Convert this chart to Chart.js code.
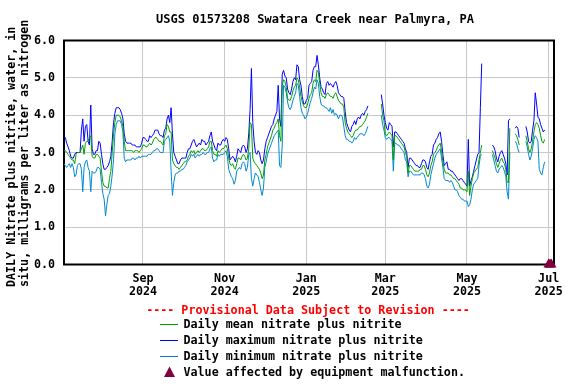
<!DOCTYPE html>
<html>
<head>
<meta charset="utf-8">
<script src="https://cdn.jsdelivr.net/npm/chart.js@4/dist/chart.umd.min.js"></script>
<style>
  html, body { margin: 0; padding: 0; background: #fff; }
  #wrap { width: 576px; height: 384px; position: relative; }
  canvas { display: block; }
</style>
</head>
<body>
<div id="wrap"><canvas id="c" width="576" height="384"></canvas></div>
<script>
// ---- data (day index 0 = 2024-07-04) ----
const N = null;
const chartTitle = 'USGS 01573208 Swatara Creek near Palmyra, PA';
const yTitleLines = ['DAILY Nitrate plus nitrite, water, in', 'situ, milligrams per liter as nitrogen'];
const provisionalText = '---- Provisional Data Subject to Revision ----';
const seriesLabels = ['Daily mean nitrate plus nitrite', 'Daily maximum nitrate plus nitrite',
                      'Daily minimum nitrate plus nitrite', 'Value affected by equipment malfunction.'];
const startDate = '2024-07-04';
const tickDays = [59, 120, 181, 240, 301, 362];
const tickMonths = ['Sep', 'Nov', 'Jan', 'Mar', 'May', 'Jul'];
const tickYears = ['2024', '2024', '2025', '2025', '2025', '2025'];
const yTicks = [0, 1, 2, 3, 4, 5, 6];

const maxValues = [
 3.4, 3.4, 3.25, 3.15, 3.05, 2.9, 2.85, 2.85, 2.95, 3.0,
 3.0, 3.0, 3.0, 3.6, 3.9, 3.3, 3.7, 3.75, 3.3, 3.2,
 4.27, 3.1, 2.95, 2.95, 3.05, 3.05, 3.3, 3.25, 2.95, 2.7,
 2.55, 2.55, 2.6, 2.65, 2.75, 2.9, 3.3, 3.8, 4.05, 4.2,
 4.2, 4.2, 4.15, 4.05, 3.9, 3.5, 3.3, 3.25, 3.25, 3.25,
 3.25, 3.2, 3.2, 3.2, 3.15, 3.15, 3.15, 3.15, 3.25, 3.4,
 3.4, 3.35, 3.3, 3.3, 3.45, 3.4, 3.45, 3.5, 3.6, 3.6,
 3.6, 3.5, 3.45, 3.45, 3.4, 3.6, 3.65, 3.9, 4.0, 3.8,
 4.2, 3.5, 3.0, 2.9, 2.8, 2.7, 2.7, 2.8, 2.85, 2.85,
 2.85, 2.85, 3.0, 3.1, 3.1, 3.2, 3.3, 3.35, 3.25, 3.15,
 3.2, 3.25, 3.2, 3.35, 3.3, 3.3, 3.2, 3.25, 3.3, 3.45,
 3.55, 3.3, 3.2, 3.1, 3.05, 3.25, 3.2, 3.2, 3.3, 3.35,
 3.3, 3.4, 3.35, 3.1, 2.8, 2.85, 2.9, 2.85, 2.75, 2.9,
 3.1, 3.05, 3.0, 3.15, 3.2, 3.15, 3.0, 3.1, 3.5, 4.15,
 5.25, 3.8, 3.3, 3.0, 2.95, 3.05, 3.0, 2.8, 2.7, 2.8,
 3.1, 3.3, 3.4, 3.5, 3.6, 3.7, 3.75, 3.9, 4.0, 4.1,
 4.8, 3.9, 3.7, 5.1, 5.2, 5.05, 5.0, 4.7, 4.6, 4.55,
 4.7, 4.9, 5.0, 4.95, 5.35, 5.3, 4.95, 4.8, 4.5, 4.3,
 4.3, 4.4, 4.45, 4.8, 4.85, 4.9, 5.2, 5.3, 5.3, 5.6,
 5.35, 5.0, 4.75, 4.7, 4.6, 4.55, 4.85, 4.9, 4.8, 4.85,
 4.8, 4.75, 4.85, 4.9, 4.8, 4.6, 4.55, 4.5, 4.5, 4.45,
 4.1, 3.8, 3.7, 3.6, 3.55, 3.7, 3.75, 3.85, 3.75, 3.9,
 3.95, 3.9, 4.0, 4.05, 4.0, 4.1, 4.15, 4.25, N, N,
 N, N, N, N, N, N, N, 4.55, 4.3, 4.0,
 3.8, 3.65, 3.6, 3.8, 3.75, 3.7, 3.15, 3.55, 3.55, 3.5,
 3.45, 3.4, 3.35, 3.3, 3.25, 3.1, 3.0, 2.6, 2.85, 2.85,
 2.8, 2.75, 2.7, 2.65, 2.65, 2.6, 2.6, 2.7, 2.8, 2.8,
 2.75, 2.6, 2.55, 2.75, 2.9, 2.95, 3.2, 3.25, 3.35, 3.4,
 3.5, 3.55, 3.3, 2.95, 2.65, 2.7, 2.75, 2.55, 2.55, 2.5,
 2.5, 2.45, 2.4, 2.35, 2.3, 2.25, 2.3, 2.3, 2.25, 2.2,
 2.15, 2.1, 3.35, 2.1, 2.25, 2.35, 2.5, 2.65, 2.8, 2.95,
 3.0, 4.2, 5.38, N, N, N, N, N, N, N,
 3.2, 3.15, 3.05, 2.85, 2.75, 2.9, 3.0, 3.05, 2.95, 2.85,
 2.7, 2.4, 3.85, 3.9, N, N, N, 3.65, 3.7, 3.65,
 3.4, N, N, N, N, 3.7, 3.55, 3.3, 3.25, 3.3,
 3.6, 3.85, 4.6, 4.3, 3.95, 3.9, 3.75, 3.65, 3.55, 3.6,
 N, N, N, N, N, N, N
];

const meanValues = [
 3.05, 3.05, 3.0, 2.95, 2.9, 2.85, 2.8, 2.8, 2.7, 2.95,
 3.0, 3.0, 3.0, 3.1, 3.2, 2.95, 3.25, 3.3, 3.3, 3.4,
 3.45, 2.9, 2.85, 2.85, 2.95, 2.95, 2.9, 2.85, 2.5, 2.2,
 2.1, 2.1, 2.05, 2.05, 2.3, 2.5, 3.0, 3.5, 3.8, 4.0,
 4.0, 4.0, 3.95, 3.85, 3.7, 3.3, 3.05, 3.05, 3.05, 3.05,
 3.05, 3.05, 3.0, 3.05, 3.05, 3.05, 3.0, 3.05, 3.1, 3.2,
 3.2, 3.15, 3.15, 3.2, 3.25, 3.2, 3.25, 3.35, 3.4, 3.4,
 3.35, 3.3, 3.3, 3.25, 3.2, 3.45, 3.5, 3.75, 3.7, 3.55,
 3.55, 2.8, 2.7, 2.65, 2.6, 2.6, 2.55, 2.6, 2.65, 2.7,
 2.75, 2.75, 2.8, 2.9, 2.95, 3.05, 3.0, 3.05, 2.95, 3.0,
 3.05, 3.0, 3.05, 3.1, 3.1, 3.05, 3.05, 3.1, 3.15, 3.3,
 3.3, 3.05, 2.95, 2.95, 2.9, 3.05, 3.0, 3.05, 3.1, 3.1,
 3.15, 3.2, 3.1, 2.85, 2.7, 2.65, 2.7, 2.6, 2.55, 2.7,
 2.85, 2.85, 2.8, 2.9, 2.95, 2.9, 2.8, 2.85, 3.1, 3.8,
 3.75, 2.85, 2.75, 2.7, 2.65, 2.6, 2.55, 2.45, 2.3, 2.4,
 2.8, 2.95, 3.15, 3.25, 3.35, 3.45, 3.6, 3.65, 3.75, 3.8,
 3.9, 3.45, 3.3, 4.8, 4.95, 4.9, 4.75, 4.45, 4.4, 4.4,
 4.5, 4.65, 4.75, 4.8, 5.0, 4.95, 4.75, 4.5, 4.35, 4.25,
 4.2, 4.2, 4.3, 4.45, 4.55, 4.6, 4.85, 4.95, 4.9, 5.2,
 5.15, 4.85, 4.6, 4.5, 4.5, 4.45, 4.55, 4.6, 4.55, 4.5,
 4.5, 4.45, 4.55, 4.6, 4.5, 4.4, 4.35, 4.3, 4.3, 4.2,
 3.8, 3.65, 3.55, 3.5, 3.45, 3.4, 3.45, 3.55, 3.6, 3.6,
 3.65, 3.7, 3.7, 3.75, 3.8, 3.85, 3.95, 4.05, N, N,
 N, N, N, N, N, N, N, 4.3, 4.0, 3.85,
 3.5, 3.45, 3.5, 3.55, 3.5, 3.45, 2.8, 3.45, 3.45, 3.4,
 3.35, 3.3, 3.25, 3.2, 3.15, 3.0, 2.9, 2.45, 2.65, 2.65,
 2.6, 2.55, 2.5, 2.5, 2.5, 2.5, 2.55, 2.55, 2.65, 2.65,
 2.55, 2.4, 2.35, 2.45, 2.65, 2.75, 2.95, 3.0, 3.05, 3.15,
 3.2, 3.25, 3.05, 2.75, 2.55, 2.45, 2.45, 2.45, 2.4, 2.4,
 2.35, 2.3, 2.3, 2.25, 2.2, 2.15, 2.05, 2.05, 2.0, 2.0,
 2.0, 1.95, 2.5, 1.85, 2.1, 2.3, 2.45, 2.5, 2.55, 2.6,
 2.8, 3.0, 3.2, N, N, N, N, N, N, N,
 3.05, 2.95, 2.85, 2.7, 2.6, 2.7, 2.8, 2.85, 2.75, 2.7,
 2.55, 2.2, 2.2, 3.65, N, N, N, 3.5, 3.45, 3.35,
 3.2, N, N, N, N, 3.45, 3.3, 3.1, 3.0, 3.1,
 3.3, 3.55, 3.75, 3.8, 3.75, 3.65, 3.45, 3.3, 3.25, 3.35,
 N, N, N, N, N, N, N
];

const minValues = [
 2.7, 2.65, 2.6, 2.65, 2.7, 2.6, 2.7, 2.6, 2.35, 2.4,
 2.65, 2.7, 2.7, 2.55, 1.95, 2.6, 2.75, 2.8, 2.6, 2.5,
 1.95, 2.5, 2.45, 2.45, 2.5, 2.6, 2.6, 2.55, 2.2, 1.9,
 1.75, 1.3, 1.6, 1.85, 1.9, 2.1, 2.4, 2.8, 3.5, 3.75,
 3.85, 3.85, 3.85, 3.75, 3.55, 2.85, 2.75, 2.8, 2.8, 2.8,
 2.8, 2.85, 2.85, 2.8, 2.85, 2.85, 2.9, 2.85, 2.9, 2.9,
 2.9, 2.9, 2.9, 2.95, 2.95, 2.95, 3.0, 3.05, 3.05, 3.1,
 3.1, 3.05, 3.0, 3.0, 3.0, 3.3, 3.35, 3.4, 3.45, 3.3,
 2.5, 1.85, 2.2, 2.4, 2.45, 2.45, 2.5, 2.5, 2.55, 2.55,
 2.6, 2.65, 2.75, 2.8, 2.85, 2.95, 2.9, 2.95, 2.85, 2.9,
 2.95, 2.9, 2.95, 2.95, 3.0, 2.95, 2.95, 3.0, 3.0, 3.1,
 3.15, 2.85, 2.75, 2.8, 2.8, 2.95, 2.9, 2.95, 2.95, 2.95,
 3.0, 3.05, 2.9, 2.55, 2.45, 2.35, 2.3, 2.15, 2.25, 2.5,
 2.55, 2.6, 2.55, 2.7, 2.75, 2.7, 2.5, 2.6, 2.95, 3.0,
 2.3, 2.1, 2.3, 2.45, 2.4, 2.35, 2.2, 2.0, 1.85, 2.05,
 2.6, 2.75, 2.95, 3.05, 3.15, 3.25, 3.35, 3.45, 3.5, 3.55,
 3.6, 2.65, 2.6, 3.2, 4.8, 4.75, 4.6, 4.35, 4.2, 4.15,
 4.25, 4.4, 4.5, 4.6, 4.85, 4.8, 4.5, 4.2, 4.05, 4.0,
 3.9, 3.95, 4.05, 4.2, 4.35, 4.45, 4.6, 4.75, 4.7, 4.95,
 4.85, 4.5, 4.3, 4.25, 4.25, 4.2, 4.2, 4.15, 4.1, 4.2,
 4.05, 4.15, 4.0, 4.05, 4.0, 3.9, 4.0, 4.0, 3.95, 3.7,
 3.45, 3.35, 3.35, 3.3, 3.3, 3.25, 3.3, 3.4, 3.35, 3.4,
 3.45, 3.5, 3.5, 3.5, 3.45, 3.5, 3.6, 3.7, N, N,
 N, N, N, N, N, N, N, 4.0, 3.75, 3.6,
 3.4, 3.35, 3.4, 3.4, 3.35, 3.3, 2.5, 3.25, 3.25, 3.2,
 3.2, 3.15, 3.1, 3.05, 3.0, 2.8, 2.75, 2.35, 2.5, 2.5,
 2.45, 2.4, 2.4, 2.4, 2.4, 2.4, 2.4, 2.45, 2.45, 2.4,
 2.3, 2.1, 2.05, 2.15, 2.4, 2.55, 2.7, 2.85, 2.95, 3.0,
 3.05, 3.1, 2.85, 2.6, 2.3, 2.25, 2.25, 2.25, 2.2, 2.25,
 2.2, 2.1, 2.0, 2.0, 1.95, 1.85, 1.8, 1.75, 1.75, 1.7,
 1.7, 1.7, 1.55, 1.6, 1.75, 2.0, 2.15, 2.2, 2.25, 2.3,
 2.65, 2.9, 2.95, N, N, N, N, N, N, N,
 2.95, 2.8, 2.65, 2.5, 2.45, 2.55, 2.6, 2.65, 2.6, 2.5,
 2.35, 1.95, 1.75, 3.0, N, N, N, 3.3, 3.25, 3.1,
 3.0, N, N, N, N, 3.3, 3.15, 2.95, 2.8, 2.9,
 3.1, 3.35, 3.45, 3.4, 3.3, 2.55, 2.45, 2.4, 2.6, 2.75,
 N, N, N, N, N, N, N
];

const malfunctionDays = [362, 363, 364];
const malfunctionValues = [0, 0, 0];

// ---- styles ----
const COLORS = { mean: '#00a000', max: '#0000ff', min: '#0088d0', flag: '#800040' };
const FONT = '"DejaVu Sans Mono", "Liberation Mono", monospace';
const toPts = arr => arr.map((v, i) => ({ x: i, y: v }));

const overlay = {
  id: 'overlay',
  beforeDatasetsDraw(chart) {
    const { ctx, chartArea: a } = chart;
    ctx.save();
    ctx.strokeStyle = '#000';
    ctx.lineWidth = 2;
    ctx.strokeRect(a.left, a.top, a.right - a.left, a.bottom - a.top);
    ctx.restore();
  },
  afterDraw(chart) {
    const { ctx } = chart;
    ctx.save();
    ctx.fillStyle = '#000';
    ctx.font = 'bold 12px ' + FONT;
    ctx.textAlign = 'center';
    ctx.textBaseline = 'middle';
    ctx.fillText(chartTitle, 315, 19.5);

    // y-axis title (rotated)
    ctx.font = 'bold 11.7px ' + FONT;
    ctx.save();
    ctx.rotate(-Math.PI / 2);
    ctx.textAlign = 'left';
    ctx.fillText(yTitleLines[0], -287, 11.7);
    ctx.fillText(yTitleLines[1], -287, 25.2);
    ctx.restore();

    // provisional note
    ctx.fillStyle = '#ff0000';
    ctx.textAlign = 'center';
    ctx.fillText(provisionalText, 308, 311);

    // legend
    ctx.textAlign = 'left';
    const cols = [COLORS.mean, COLORS.max, COLORS.min];
    const ys = [325, 341, 357];
    for (let i = 0; i < 3; i++) {
      ctx.strokeStyle = cols[i];
      ctx.lineWidth = 1;
      ctx.beginPath();
      ctx.moveTo(160, ys[i] - 0.5);
      ctx.lineTo(178, ys[i] - 0.5);
      ctx.stroke();
      ctx.fillStyle = '#000';
      ctx.fillText(seriesLabels[i], 183.5, ys[i]);
    }
    ctx.fillStyle = COLORS.flag;
    ctx.beginPath();
    ctx.moveTo(164, 377);
    ctx.lineTo(175, 377);
    ctx.lineTo(169.5, 366.5);
    ctx.closePath();
    ctx.fill();
    ctx.fillStyle = '#000';
    ctx.fillText(seriesLabels[3], 183.5, 372.5);
    ctx.restore();
  }
};

new Chart(document.getElementById('c'), {
  type: 'line',
  data: {
    datasets: [
      { label: seriesLabels[0], data: toPts(meanValues),
        borderColor: COLORS.mean, borderWidth: 1, pointRadius: 0, tension: 0, spanGaps: false, order: 1 },
      { label: seriesLabels[1], data: toPts(maxValues),
        borderColor: COLORS.max, borderWidth: 1, pointRadius: 0, tension: 0, spanGaps: false, order: 3 },
      { label: seriesLabels[2], data: toPts(minValues),
        borderColor: COLORS.min, borderWidth: 1, pointRadius: 0, tension: 0, spanGaps: false, order: 2 },
      { label: seriesLabels[3],
        data: malfunctionDays.map((d, i) => ({ x: d, y: malfunctionValues[i] })),
        showLine: false, pointStyle: 'triangle', pointRadius: 6, pointHoverRadius: 6,
        backgroundColor: COLORS.flag, borderColor: COLORS.flag, borderWidth: 0, clip: false, order: 0 }
    ]
  },
  options: {
    responsive: false,
    animation: false,
    devicePixelRatio: 1,
    events: [],
    layout: { padding: { left: 0, right: 22, top: 40.5, bottom: 0 } },
    plugins: { legend: { display: false }, tooltip: { enabled: false }, title: { display: false } },
    scales: {
      x: {
        type: 'linear', min: 0, max: 366,
        afterBuildTicks: s => { s.ticks = tickDays.map(v => ({ value: v })); },
        afterFit: s => { s.height = 119.5; },
        ticks: {
          autoSkip: false, maxRotation: 0, minRotation: 0, padding: 8, color: '#000',
          font: { family: FONT, size: 11.7, weight: 'bold', lineHeight: '13px' },
          callback: (v) => { const i = tickDays.indexOf(v); return i >= 0 ? [tickMonths[i], tickYears[i]] : ''; }
        },
        grid: { color: '#c8c8c8', lineWidth: 1, drawTicks: false },
        border: { display: false }
      },
      y: {
        min: 0, max: 6,
        afterBuildTicks: s => { s.ticks = yTicks.map(v => ({ value: v })); },
        afterFit: s => { s.width = 64; },
        ticks: {
          padding: 9, color: '#000',
          font: { family: FONT, size: 11.7, weight: 'bold' },
          callback: v => Number(v).toFixed(1)
        },
        grid: { color: '#c8c8c8', lineWidth: 1, drawTicks: false },
        border: { display: false }
      }
    }
  },
  plugins: [overlay]
});
</script>
</body>
</html>
